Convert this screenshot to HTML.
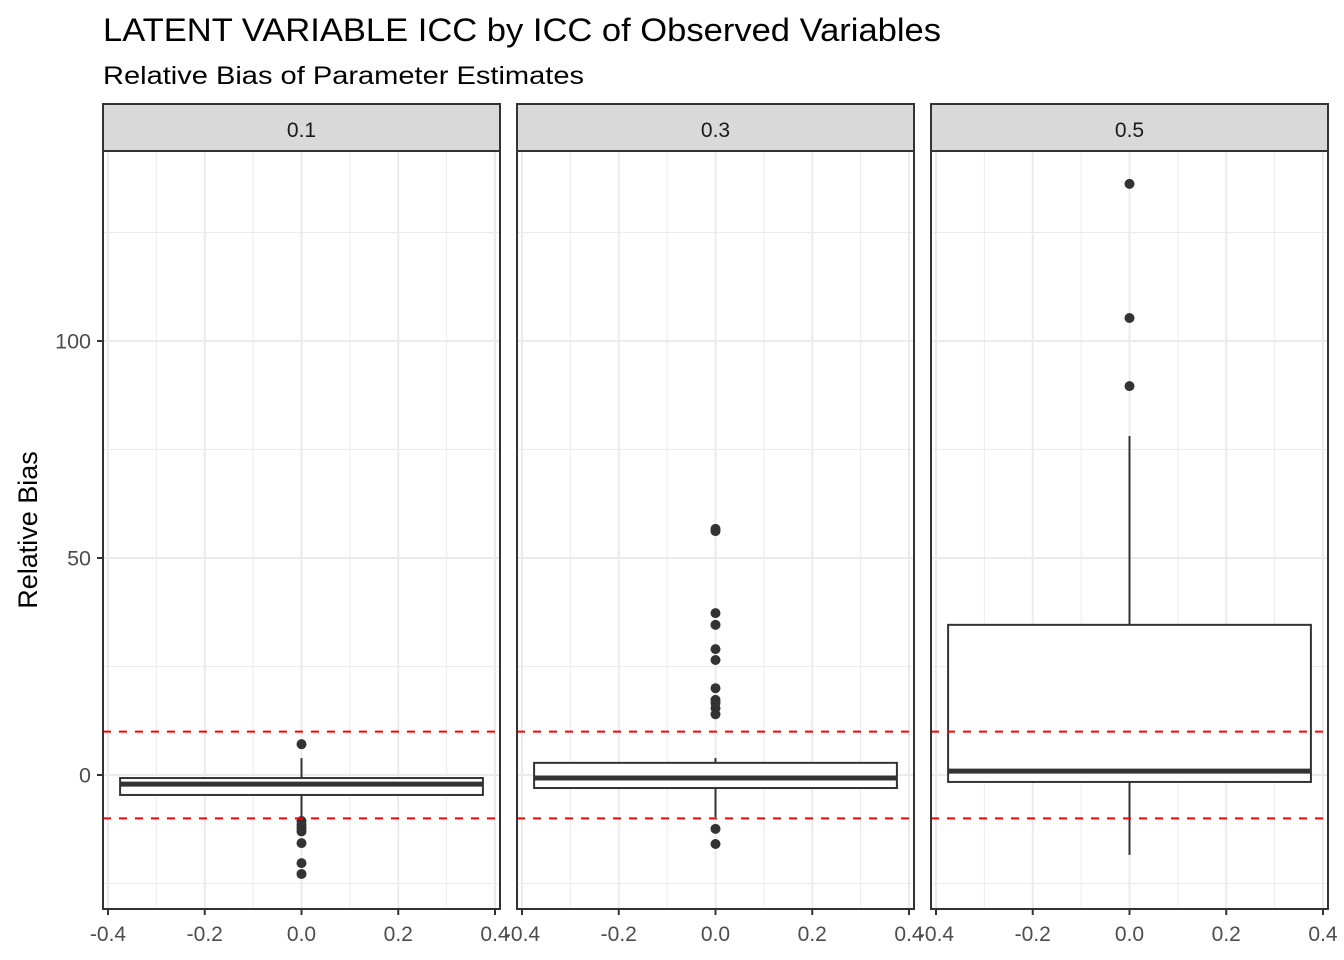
<!DOCTYPE html>
<html><head><meta charset="utf-8"><style>
html,body{margin:0;padding:0;background:#fff;}
svg{display:block;font-family:"Liberation Sans",Arial,sans-serif;}
</style></head><body>
<svg id="chart" width="1344" height="960" viewBox="0 0 1344 960">
<text x="103" y="41" font-size="32" textLength="838" lengthAdjust="spacingAndGlyphs" fill="#000">LATENT VARIABLE ICC by ICC of Observed Variables</text>
<text x="103" y="84" font-size="25" textLength="481" lengthAdjust="spacingAndGlyphs" fill="#000">Relative Bias of Parameter Estimates</text>
<text transform="translate(37,530) rotate(-90)" text-anchor="middle" font-size="27" fill="#000">Relative Bias</text>
<g id="plots"></g>
</svg>
<script>
const panels = ["0.1","0.3","0.5"];
const q1 = [-4.6, -3.0, -1.6];
const med = [-2.1, -0.7, 0.9];
const q3 = [-0.7, 2.8, 34.6];
const whiskLo = [-9.7, -9.7, -18.4];
const whiskHi = [3.9, 3.9, 78.1];
const outliers0 = [7.1, -10.6, -11.5, -12.3, -13.0, -15.7, -20.3, -22.8];
const outliers1 = [56.7, 56.2, 37.3, 34.6, 29.0, 26.5, 20.0, 17.3, 16.6, 15.4, 14.0, -12.4, -15.9];
const outliers2 = [136.2, 105.3, 89.6];
const yTicks = [0, 50, 100];
const yMinor = [-25, 25, 75, 125];
const xTicks = [-0.4, -0.2, 0.0, 0.2, 0.4];
const xTickLabels = ["-0.4", "-0.2", "0.0", "0.2", "0.4"];
const xMinor = [-0.3, -0.1, 0.1, 0.3];
const refLines = [10, -10];

const outl = [outliers0, outliers1, outliers2];
const NS = "http://www.w3.org/2000/svg";
const plotsG = document.getElementById("plots");
const panelX = [103, 517, 931], panelW = 397;
const plotTop = 151, plotBottom = 909, stripTop = 104;
function yScale(v){ return 775 - 4.34 * v; }
function xScaleFor(p){ const c = panelX[p] + 198.5; return v => c + v * 483.75; }
function mk(tag, attrs, parent){
  const e = document.createElementNS(NS, tag);
  for (const k in attrs) e.setAttribute(k, attrs[k]);
  (parent || plotsG).appendChild(e); return e;
}
panels.forEach((lab, p) => {
  const x = xScaleFor(p), y = yScale, L = panelX[p], R = L + panelW;
  const pg = mk("g", {});
  
  
  const gl = mk("g", {}, pg);
  
  
  yMinor.forEach(v => { if (y(v) > plotTop && y(v) < plotBottom) mk("line", {x1:L, x2:R, y1:y(v), y2:y(v), stroke:"#ebebeb", "stroke-width":1}, gl); });
  xMinor.forEach(v => mk("line", {x1:x(v), x2:x(v), y1:plotTop, y2:plotBottom, stroke:"#ebebeb", "stroke-width":1}, gl));
  yTicks.forEach(v => mk("line", {x1:L, x2:R, y1:y(v), y2:y(v), stroke:"#ebebeb", "stroke-width":2}, gl));
  xTicks.forEach(v => mk("line", {x1:x(v), x2:x(v), y1:plotTop, y2:plotBottom, stroke:"#ebebeb", "stroke-width":2}, gl));
  const wh = mk("line", {x1:x(0), x2:x(0), y1:y(whiskHi[p]), y2:y(q3[p]), stroke:"#333", "stroke-width":2}, pg);
  
  
  const wl = mk("line", {x1:x(0), x2:x(0), y1:y(q1[p]), y2:y(whiskLo[p]), stroke:"#333", "stroke-width":2}, pg);
  
  
  const box = mk("rect", {x:x(-0.375), y:y(q3[p]), width:x(0.375)-x(-0.375), height:y(q1[p])-y(q3[p]), fill:"#fff", stroke:"#333", "stroke-width":2}, pg);
  
  
  const md = mk("line", {x1:x(-0.375), x2:x(0.375), y1:y(med[p]), y2:y(med[p]), stroke:"#333", "stroke-width":5}, pg);
  
  
  outl[p].forEach(v => {
    const c = mk("circle", {cx:x(0), cy:y(v), r:5, fill:"#333"}, pg);
    
    
  });
  refLines.forEach(v => {
    const r = mk("line", {x1:L, x2:R, y1:y(v), y2:y(v), stroke:"#ff0000", "stroke-width":2, "stroke-dasharray":"8,8"}, pg);
    
    
  });
  const fr = mk("rect", {x:L, y:plotTop, width:panelW, height:plotBottom-plotTop, fill:"none", stroke:"#333", "stroke-width":2}, pg);
  
  
  const st = mk("rect", {x:L, y:stripTop, width:panelW, height:plotTop-stripTop, fill:"#d9d9d9", stroke:"#333", "stroke-width":2}, pg);
  
  
  const stt = mk("text", {x:L+panelW/2, y:137, "text-anchor":"middle", "font-size":21, fill:"#1a1a1a"}, pg);
  stt.textContent = lab;
  
  
  xTicks.forEach((v, i) => {
    mk("line", {x1:x(v), x2:x(v), y1:plotBottom, y2:plotBottom+6, stroke:"#333", "stroke-width":2}, pg);
    const t = mk("text", {x:x(v), y:941, "text-anchor":"middle", "font-size":21, fill:"#4d4d4d"}, pg);
    t.textContent = xTickLabels[i];
    
    
  });
  if (p === 0) {
    yTicks.forEach(v => {
      mk("line", {x1:L-6, x2:L, y1:y(v), y2:y(v), stroke:"#333", "stroke-width":2}, pg);
      const t = mk("text", {x:L-12, y:y(v)+7.5, "text-anchor":"end", "font-size":21.5, fill:"#4d4d4d"}, pg);
      t.textContent = String(v);
      
      
    });
  }
});
</script>
</body></html>
